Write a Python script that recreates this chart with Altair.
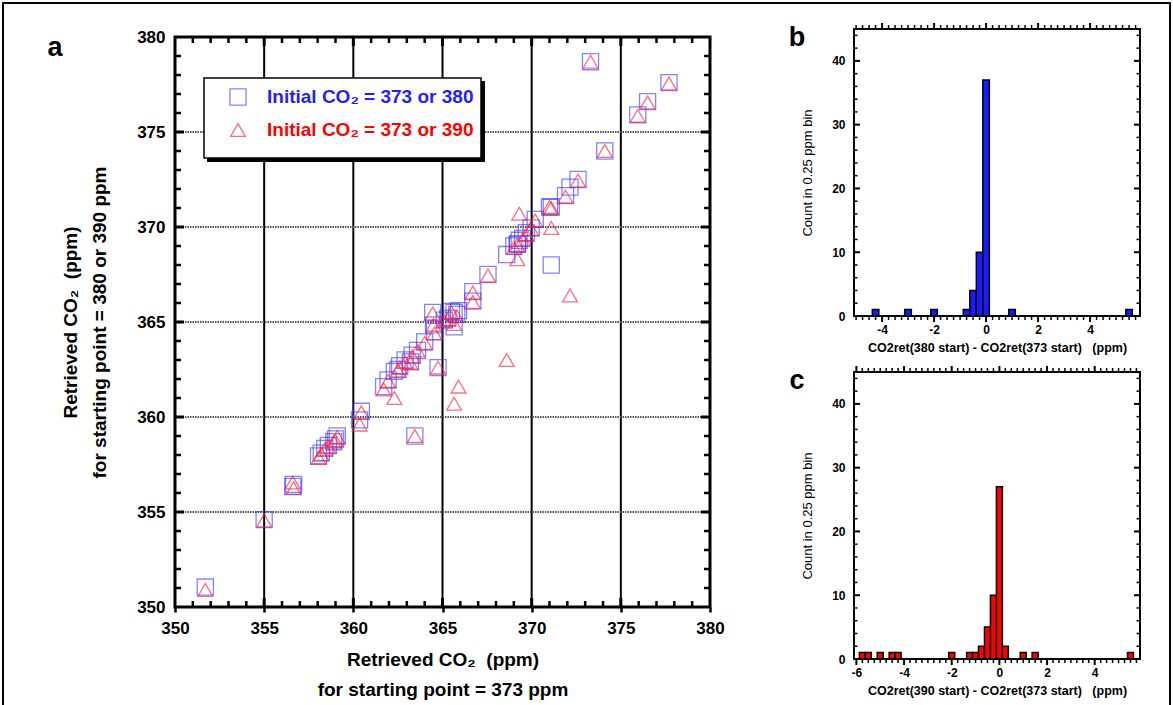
import altair as alt
import pandas as pd

# ---------------- data ----------------
# Panel a: retrieved CO2 for start 373 (x), start 380 (squares), start 390 (triangles)
x373 = [351.7, 355.0, 356.6, 356.65, 358.05, 358.2, 358.4, 358.6, 358.9, 359.1,
        359.0, 360.35, 360.45, 363.45, 361.7, 361.95, 362.3, 362.5, 362.6, 362.9,
        363.2, 363.3, 363.6, 364.0, 364.55, 364.5, 364.75, 364.45, 365.1, 365.5,
        365.8, 365.65, 365.3, 365.9, 365.65, 366.7, 366.7, 367.55, 368.6, 369.2,
        369.2, 369.0, 369.3, 369.5, 369.7, 369.97, 370.2, 371.0, 371.1, 371.1,
        372.15, 371.9, 372.6, 373.3, 374.1, 375.95, 376.5, 377.7]
y380 = [351.05, 354.6, 356.35, 356.45, 357.95, 358.1, 358.35, 358.5, 358.7, 359.0,
        358.85, 359.85, 360.3, 359.0, 361.6, 361.95, 362.4, 362.5, 362.7, 363.0,
        362.9, 363.25, 363.5, 363.95, 364.5, 364.85, 362.6, 365.5, 365.1, 365.55,
        365.4, 364.75, 365.2, 365.6, 365.5, 366.6, 366.1, 367.5, 368.55, 369.1,
        369.1, 369.0, 369.3, 369.4, 369.7, 369.95, 370.4, 371.05, 371.05, 368.0,
        372.1, 371.65, 372.5, 378.7, 374.0, 375.9, 376.6, 377.6]
y390 = [350.9, 354.55, 356.55, 356.25, 357.85, 358.05, 358.3, 358.45, 358.7, 358.95,
        358.75, 359.6, 360.25, 359.0, 361.45, 361.9, 361.0, 362.45, 362.6, 362.9,
        362.85, 363.2, 363.5, 363.9, 364.4, 364.85, 362.6, 365.45, 365.05, 365.5,
        365.3, 364.9, 365.15, 361.6, 360.7, 366.55, 366.05, 367.45, 363.0, 368.3,
        369.05, 368.9, 370.7, 369.35, 369.6, 369.9, 370.35, 371.05, 369.95, 371.0,
        366.4, 371.6, 372.45, 378.7, 374.0, 375.85, 376.55, 377.55]

# Panel b / c histograms (bin centres, 0.25 ppm bins)
b_centers = [-4.25, -3.0, -2.0, -0.75, -0.5, -0.25, 0.0, 1.0, 5.5]
b_counts = [1, 1, 1, 1, 4, 10, 37, 1, 1]
c_centers = [-5.75, -5.5, -5.0, -4.5, -4.25, -2.0, -1.25, -1.0, -0.75, -0.5,
             -0.25, 0.0, 0.25, 1.0, 1.5, 5.5]
c_counts = [1, 1, 1, 1, 1, 1, 1, 1, 2, 5, 10, 27, 2, 1, 1, 1]

a_ticks = [350, 355, 360, 365, 370, 375, 380]
a_grid = [355, 360, 365, 370, 375]
a_minor = [v for v in range(351, 380) if v % 5 != 0]
legend_labels = ["Initial CO\u2082 = 373 or 380", "Initial CO\u2082 = 373 or 390"]
b_labels = [-4, -2, 0, 2, 4]
c_labels = [-6, -4, -2, 0, 2, 4]
hist_y_labels = [0, 10, 20, 30, 40]
SP3 = "\u00a0\u00a0\u00a0"
SP2 = "\u00a0\u00a0"

NARROW = "Liberation Sans Narrow, Arial Narrow, Liberation Sans, Arial, sans-serif"
SANS = "Liberation Sans, Arial, sans-serif"
BLUE_PT = "#3333ff"
RED_PT = "#ff2040"

one = pd.DataFrame({"k": [0]})

# ---------------- panel a ----------------
W, H = 535, 578
TOP = 8
xs = alt.Scale(domain=[350, 380], nice=False, zero=False)
ys = alt.Scale(domain=[350, 380], range=[H, TOP], nice=False, zero=False)

pts = pd.DataFrame({"x": x373, "y380": y380, "y390": y390})

xaxis = alt.Axis(values=a_ticks, format="d",
                 title=["Retrieved CO\u2082" + SP2 + "(ppm)", "for starting point = 373 ppm"],
                 labelFont=NARROW, labelFontSize=17, labelFontWeight="bold", labelColor="black",
                 labelPadding=8, labelFlush=False, labelOverlap=False,
                 ticks=True, tickSize=5, tickWidth=2.5, tickColor="black", domain=False, grid=False,
                 titleFont=NARROW, titleFontSize=19, titleFontWeight="bold", titleColor="black",
                 titlePadding=14, titleLineHeight=30)
yaxis = alt.Axis(values=a_ticks, format="d",
                 title=["Retrieved CO\u2082" + SP2 + "(ppm)", "for starting point = 380 or 390 ppm"],
                 labelFont=NARROW, labelFontSize=17, labelFontWeight="bold", labelColor="black",
                 labelPadding=10, labelFlush=False, labelOverlap=False,
                 ticks=False, domain=False, grid=False,
                 titleFont=NARROW, titleFontSize=19, titleFontWeight="bold", titleColor="black",
                 titlePadding=27, titleLineHeight=29)

# axis-bearing (invisible) layer first
axis_layer = alt.Chart(pts).mark_point(opacity=0).encode(
    x=alt.X("x:Q", scale=xs, axis=xaxis), y=alt.Y("y380:Q", scale=ys, axis=yaxis))

gv = alt.Chart(pd.DataFrame({"g": a_grid})).mark_rule(color="black", strokeWidth=2).encode(
    x=alt.X("g:Q", scale=xs),
    y=alt.Y(datum=350, scale=ys), y2=alt.datum(380))
gh = alt.Chart(pd.DataFrame({"g": a_grid})).mark_rule(color="#555555", strokeWidth=1.8, strokeDash=[1.5, 1]).encode(
    y=alt.Y("g:Q", scale=ys),
    x=alt.X(datum=350, scale=xs), x2=alt.datum(380))


def ticks_x(vals, scale, top, bottom, length, width, outward=False):
    d = pd.DataFrame({"t": vals})
    s = -1 if outward else 1
    bot = alt.Chart(d).mark_rule(color="black", strokeWidth=width).encode(
        x=alt.X("t:Q", scale=scale), y=alt.value(bottom), y2=alt.value(bottom - s * length))
    tp = alt.Chart(d).mark_rule(color="black", strokeWidth=width).encode(
        x=alt.X("t:Q", scale=scale), y=alt.value(top), y2=alt.value(top + s * length))
    return [bot, tp]


def ticks_y(vals, scale, left, right, length, width):
    d = pd.DataFrame({"t": vals})
    lf = alt.Chart(d).mark_rule(color="black", strokeWidth=width).encode(
        y=alt.Y("t:Q", scale=scale), x=alt.value(left), x2=alt.value(left + length))
    rt = alt.Chart(d).mark_rule(color="black", strokeWidth=width).encode(
        y=alt.Y("t:Q", scale=scale), x=alt.value(right), x2=alt.value(right - length))
    return [lf, rt]


a_tick_layers = (ticks_x(a_minor, xs, TOP, H, 6, 2.5) + ticks_x(a_grid, xs, TOP, H, 9, 3)
                 + ticks_y(a_minor, ys, 0, W, 6, 2.5) + ticks_y(a_grid, ys, 0, W, 9, 3))

frame_a = alt.Chart(one).mark_rect(fillOpacity=0, stroke="black", strokeWidth=3).encode(
    x=alt.X(datum=350, scale=xs), x2=alt.datum(380),
    y=alt.Y(datum=350, scale=ys), y2=alt.datum(380))

squares = alt.Chart(pts).mark_point(shape="square", size=260, filled=False, color=BLUE_PT,
                                    strokeWidth=1.3, opacity=0.6).encode(
    x=alt.X("x:Q", scale=xs), y=alt.Y("y380:Q", scale=ys))
triangles = alt.Chart(pts).mark_point(shape="triangle-up", size=220, filled=False, color=RED_PT,
                                      strokeWidth=1.3, opacity=0.65).encode(
    x=alt.X("x:Q", scale=xs), y=alt.Y("y390:Q", scale=ys))

leg_shadow = alt.Chart(one).mark_rect(color="black").encode(
    x=alt.value(32), x2=alt.value(310), y=alt.value(52), y2=alt.value(133))
leg_box = alt.Chart(one).mark_rect(fill="white", stroke="black", strokeWidth=1.5).encode(
    x=alt.value(29), x2=alt.value(306), y=alt.value(49), y2=alt.value(129))
leg_sq = alt.Chart(one).mark_point(shape="square", size=260, filled=False, color=BLUE_PT,
                                   strokeWidth=1.3, opacity=0.6).encode(x=alt.value(63), y=alt.value(68))
leg_tri = alt.Chart(one).mark_point(shape="triangle-up", size=220, filled=False, color=RED_PT,
                                    strokeWidth=1.3, opacity=0.65).encode(x=alt.value(63), y=alt.value(101))
leg_t1 = alt.Chart(pd.DataFrame({"s": [legend_labels[0]]})).mark_text(
    align="left", baseline="middle", font=NARROW, fontSize=19, fontWeight="bold", color="#1f1fff").encode(
    x=alt.value(92), y=alt.value(68), text="s:N")
leg_t2 = alt.Chart(pd.DataFrame({"s": [legend_labels[1]]})).mark_text(
    align="left", baseline="middle", font=NARROW, fontSize=19, fontWeight="bold", color="#ff0000").encode(
    x=alt.value(92), y=alt.value(101), text="s:N")

letter_a = alt.Chart(pd.DataFrame({"s": ["a"]})).mark_text(
    font=SANS, fontSize=27, fontWeight="bold", color="black").encode(
    x=alt.value(-120), y=alt.value(19), text="s:N")
border = alt.Chart(one).mark_rect(fillOpacity=0, stroke="black", strokeWidth=2).encode(
    x=alt.value(-172), x2=alt.value(995), y=alt.value(-26), y2=alt.value(720))

panel_a = alt.layer(axis_layer, gv, gh, *a_tick_layers, squares, triangles, frame_a,
                    leg_shadow, leg_box, leg_sq, leg_tri, leg_t1, leg_t2, letter_a, border).properties(
    width=W, height=H)

# ---------------- panels b and c ----------------
HW, HH = 286, 287


def hist_panel(centers, counts, color, dom, labvals, xtitle, letter, minor_lo, minor_hi):
    df = pd.DataFrame({"c": centers, "n": counts})
    df["lo"] = df["c"] - 0.125
    df["hi"] = df["c"] + 0.125
    df["z"] = 0
    hx = alt.Scale(domain=dom, nice=False, zero=False)
    hy = alt.Scale(domain=[0, 45], nice=False, zero=False)
    hxaxis = alt.Axis(values=labvals, title=xtitle, ticks=False, domain=False, grid=False,
                      labelExpr="datum.value < 0 ? '-' + abs(datum.value) : '' + datum.value",
                      labelFont=SANS, labelFontSize=12, labelFontWeight="bold", labelColor="black",
                      labelPadding=8, labelFlush=False, labelOverlap=False,
                      titleFont=SANS, titleFontSize=12.5, titleFontWeight="bold", titleColor="black",
                      titlePadding=6)
    hyaxis = alt.Axis(values=hist_y_labels, title="Count in 0.25 ppm bin", ticks=False, domain=False,
                      grid=False, labelFont=SANS, labelFontSize=12, labelFontWeight="bold",
                      labelColor="black", labelPadding=9, labelFlush=False, labelOverlap=False,
                      titleFont=SANS, titleFontSize=13, titleFontWeight="normal", titleColor="black",
                      titlePadding=17)
    bars = alt.Chart(df).mark_rect(color=color, stroke="black", strokeWidth=1.5).encode(
        x=alt.X("lo:Q", scale=hx, axis=hxaxis), x2="hi:Q",
        y=alt.Y("n:Q", scale=hy, axis=hyaxis), y2="z:Q")
    q = [i * 0.25 for i in range(int(minor_lo * 4), int(minor_hi * 4) + 1)]
    minor = [v for v in q if abs(v / 2 - round(v / 2)) > 1e-9]
    major = [v for v in q if abs(v / 2 - round(v / 2)) <= 1e-9]
    lay = ticks_x(minor, hx, 0, HH, 4, 1.5, outward=True) + ticks_x(major, hx, 0, HH, 6, 2, outward=True)
    ymin = [v for v in range(2, 45, 2) if v % 10 != 0]
    ymaj = [10, 20, 30, 40]
    lay += ticks_y(ymin, hy, 0, HW, 3.5, 1.5) + ticks_y(ymaj, hy, 0, HW, 6, 2)
    frame = alt.Chart(one).mark_rect(fillOpacity=0, stroke="black", strokeWidth=2).encode(
        x=alt.value(0), x2=alt.value(HW), y=alt.value(0), y2=alt.value(HH))
    let = alt.Chart(pd.DataFrame({"s": [letter]})).mark_text(
        font=SANS, fontSize=27, fontWeight="bold", color="black").encode(
        x=alt.value(-57), y=alt.value(9), text="s:N")
    return alt.layer(bars, *lay, frame, let).properties(width=HW, height=HH)


panel_b = hist_panel(b_centers, b_counts, "#1a1aff", [-5.08, 5.92], b_labels,
                     "CO2ret(380 start) - CO2ret(373 start)" + SP3 + "(ppm)", "b", -5.0, 5.75)
panel_c = hist_panel(c_centers, c_counts, "#ff0000", [-6.1, 5.9], c_labels,
                     "CO2ret(390 start) - CO2ret(373 start)" + SP3 + "(ppm)", "c", -6.0, 5.75)

right = alt.vconcat(panel_b, panel_c, spacing=56, bounds="flush")
chart = alt.hconcat(panel_a, right, spacing=144, bounds="flush").properties(
    padding={"left": 2, "top": 2, "right": 0, "bottom": 0}, background="white"
).configure_view(strokeWidth=0)

chart.save("out.html", embed_options={"renderer": "svg", "actions": False})
